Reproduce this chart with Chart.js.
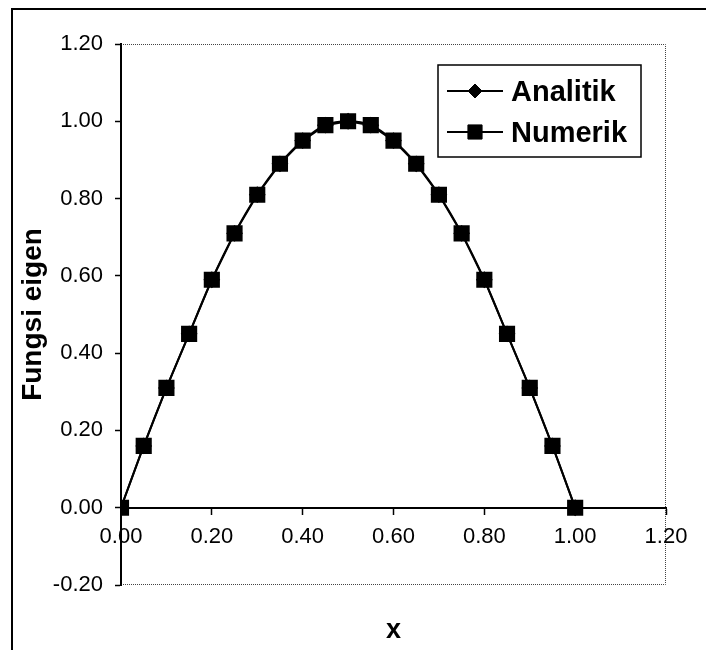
<!DOCTYPE html>
<html>
<head>
<meta charset="utf-8">
<script src="https://cdn.jsdelivr.net/npm/chart.js@4/dist/chart.umd.min.js"></script>
<style>
html,body{margin:0;padding:0;background:#fff;}
#wrap{width:706px;height:650px;position:relative;}
</style>
</head>
<body>
<div id="wrap"><canvas id="c" width="706" height="650"></canvas></div>
<script>
// ---- data ----
const xValues = [0.00, 0.05, 0.10, 0.15, 0.20, 0.25, 0.30, 0.35, 0.40, 0.45, 0.50,
                 0.55, 0.60, 0.65, 0.70, 0.75, 0.80, 0.85, 0.90, 0.95, 1.00];
const analitik = [0.00, 0.16, 0.31, 0.45, 0.59, 0.71, 0.81, 0.89, 0.95, 0.99, 1.00,
                  0.99, 0.95, 0.89, 0.81, 0.71, 0.59, 0.45, 0.31, 0.16, 0.00];
const numerik  = [0.00, 0.16, 0.31, 0.45, 0.59, 0.71, 0.81, 0.89, 0.95, 0.99, 1.00,
                  0.99, 0.95, 0.89, 0.81, 0.71, 0.59, 0.45, 0.31, 0.16, 0.00];
const seriesNames = ['Analitik', 'Numerik'];
const xTickLabels = ['0.00', '0.20', '0.40', '0.60', '0.80', '1.00', '1.20'];
const yTickLabels = ['-0.20', '0.00', '0.20', '0.40', '0.60', '0.80', '1.00', '1.20'];
const xTitle = 'x';
const yTitle = 'Fungsi eigen';

const FONT = '"Liberation Sans", Arial, sans-serif';

// ---- plugins ----
const framePlugin = {
  id: 'framePlugin',
  beforeDraw(chart) {
    const ctx = chart.ctx, a = chart.chartArea;
    ctx.save();
    ctx.fillStyle = '#fff';
    ctx.fillRect(0, 0, chart.width, chart.height);
    ctx.strokeStyle = '#000';
    ctx.lineWidth = 2;
    ctx.beginPath();
    ctx.moveTo(12, chart.height);
    ctx.lineTo(12, 9);
    ctx.lineTo(chart.width, 9);
    ctx.stroke();
    ctx.strokeStyle = '#444';
    ctx.lineWidth = 1;
    ctx.setLineDash([1, 1]);
    ctx.beginPath();
    ctx.moveTo(a.left, a.top + 0.5);
    ctx.lineTo(a.right - 0.5, a.top + 0.5);
    ctx.lineTo(a.right - 0.5, a.bottom - 0.5);
    ctx.lineTo(a.left, a.bottom - 0.5);
    ctx.stroke();
    ctx.restore();
  }
};

function drawMarker(ctx, style, r, x, y) {
  ctx.beginPath();
  if (style === 'rect') {
    const s = Math.SQRT1_2 * r;
    ctx.rect(x - s, y - s, 2 * s, 2 * s);
  } else {
    ctx.moveTo(x, y - r);
    ctx.lineTo(x + r, y);
    ctx.lineTo(x, y + r);
    ctx.lineTo(x - r, y);
    ctx.closePath();
  }
  ctx.fill();
  ctx.stroke();
}

const legendPlugin = {
  id: 'legendPlugin',
  afterDraw(chart) {
    const ctx = chart.ctx;
    const x0 = 438, y0 = 65, w = 203, h = 92;
    ctx.save();
    ctx.fillStyle = '#fff';
    ctx.fillRect(x0, y0, w, h);
    ctx.strokeStyle = '#000';
    ctx.lineWidth = 1.5;
    ctx.strokeRect(x0, y0, w, h);
    chart.data.datasets.forEach((ds, i) => {
      const cy = 91 + i * 41;
      ctx.strokeStyle = '#000';
      ctx.lineWidth = 2;
      ctx.beginPath();
      ctx.moveTo(447, cy);
      ctx.lineTo(503, cy);
      ctx.stroke();
      ctx.fillStyle = '#000';
      ctx.lineWidth = 1;
      drawMarker(ctx, ds.pointStyle, i === 0 ? 7 : 10, 475, cy);
      ctx.font = 'bold 29px ' + FONT;
      ctx.textBaseline = 'alphabetic';
      ctx.textAlign = 'left';
      ctx.fillText(ds.label, 511, cy + 9.5);
    });
    ctx.restore();
  }
};

const xTitlePlugin = {
  id: 'xTitlePlugin',
  afterDraw(chart) {
    const ctx = chart.ctx, a = chart.chartArea;
    ctx.save();
    ctx.fillStyle = '#000';
    ctx.font = 'bold 27px ' + FONT;
    ctx.textAlign = 'center';
    ctx.textBaseline = 'alphabetic';
    ctx.fillText(xTitle, (a.left + a.right) / 2, 638);
    ctx.restore();
  }
};

// ---- chart ----
const ctx = document.getElementById('c').getContext('2d');
new Chart(ctx, {
  type: 'line',
  data: {
    datasets: [
      {
        label: seriesNames[0],
        data: xValues.map((x, i) => ({ x: x, y: analitik[i] })),
        borderColor: '#000',
        backgroundColor: '#000',
        borderWidth: 2,
        pointStyle: 'rectRot',
        pointRadius: 7,
        pointBackgroundColor: '#000',
        pointBorderColor: '#000',
        tension: 0.3,
        order: 1
      },
      {
        label: seriesNames[1],
        data: xValues.map((x, i) => ({ x: x, y: numerik[i] })),
        borderColor: '#000',
        backgroundColor: '#000',
        borderWidth: 2,
        pointStyle: 'rect',
        pointRadius: 10,
        pointBackgroundColor: '#000',
        pointBorderColor: '#000',
        tension: 0,
        order: 0
      }
    ]
  },
  options: {
    responsive: false,
    devicePixelRatio: 1,
    animation: false,
    layout: { padding: { left: 12, top: 44, right: 40, bottom: 65 } },
    plugins: {
      legend: { display: false },
      tooltip: { enabled: false }
    },
    scales: {
      x: {
        type: 'linear',
        min: 0,
        max: 1.2,
        position: { y: 0 },
        ticks: {
          stepSize: 0.2,
          color: '#000',
          font: { family: FONT, size: 22 },
          padding: 10,
          maxRotation: 0,
          callback: (v, i) => xTickLabels[i]
        },
        grid: {
          drawOnChartArea: false,
          drawTicks: true,
          tickLength: 6,
          tickColor: '#000',
          tickWidth: 1.5
        },
        border: { display: true, color: '#000', width: 2 }
      },
      y: {
        min: -0.2,
        max: 1.2,
        position: 'left',
        afterFit: (s) => { s.width = 109; },
        ticks: {
          stepSize: 0.2,
          color: '#000',
          font: { family: FONT, size: 22 },
          padding: 12,
          callback: (v, i) => yTickLabels[i]
        },
        grid: {
          drawOnChartArea: false,
          drawTicks: true,
          tickLength: 6,
          tickColor: '#000',
          tickWidth: 1.5
        },
        border: { display: true, color: '#000', width: 2 },
        title: {
          display: true,
          text: yTitle,
          color: '#000',
          font: { family: FONT, size: 28, weight: 'bold' },
          padding: { top: 4, bottom: 0 }
        }
      }
    }
  },
  plugins: [framePlugin, legendPlugin, xTitlePlugin]
});
</script>
</body>
</html>
